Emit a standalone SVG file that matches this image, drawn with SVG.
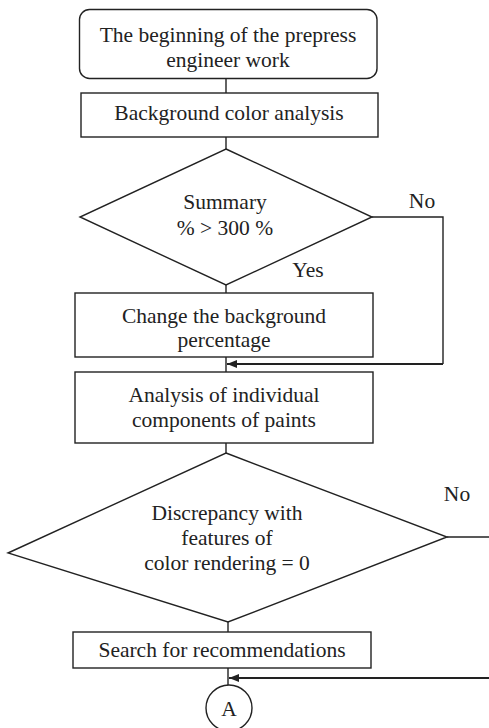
<svg xmlns="http://www.w3.org/2000/svg" width="489" height="728" viewBox="0 0 489 728">
<style>
.s{fill:#fff;stroke:#222;stroke-width:1.4}
.t{font-family:"Liberation Serif","Times New Roman",serif;font-size:21.5px;fill:#222;text-anchor:middle}
.c{fill:none;stroke:#222;stroke-width:1.4}
.a{fill:none;stroke:#222;stroke-width:2}
</style>
<defs>
<marker id="ah" markerWidth="10" markerHeight="8" refX="10" refY="4" orient="auto" markerUnits="userSpaceOnUse">
<path d="M0,0 L10,4 L0,8 Z" fill="#222"/>
</marker>
</defs>
<rect width="489" height="728" fill="#fff"/>
<g id="connectors">
<path class="c" d="M226,78.5 V93"/>
<path class="c" d="M226,137 V149"/>
<path class="c" d="M226,285 V293"/>
<path class="c" d="M372,217 H443 V364"/>
<path class="a" d="M443,364 H227" marker-end="url(#ah)"/>
<path class="c" d="M226,357 V372"/>
<path class="c" d="M226,443 V453"/>
<path class="c" d="M228,622 V632"/>
<path class="c" d="M447,537 H489"/>
<path class="c" d="M228,668 V685"/>
<path class="a" d="M489,678 H229" marker-end="url(#ah)"/>
</g>
<g id="start">
<rect class="s" x="79.5" y="9.5" width="297.5" height="69" rx="10"/>
<text class="t" x="228" y="42">The beginning of the prepress</text>
<text class="t" x="228" y="67">engineer work</text>
</g>
<g id="bg">
<rect class="s" x="81" y="93" width="297" height="44"/>
<text class="t" x="229" y="120">Background color analysis</text>
</g>
<g id="dec1">
<polygon class="s" points="226,149 372,217 226,285 80,217"/>
<text class="t" x="225" y="209">Summary</text>
<text class="t" x="225" y="235">% &gt; 300 %</text>
<text class="t" x="308" y="277">Yes</text>
<text class="t" x="422" y="208">No</text>
</g>
<g id="change">
<rect class="s" x="75" y="293" width="298" height="64"/>
<text class="t" x="224" y="323">Change the background</text>
<text class="t" x="224" y="347">percentage</text>
</g>
<g id="analysis">
<rect class="s" x="75" y="372" width="298" height="71"/>
<text class="t" x="224" y="402">Analysis of individual</text>
<text class="t" x="224" y="427">components of paints</text>
</g>
<g id="dec2">
<polygon class="s" points="226,453 447,537 228,622 8,553"/>
<text class="t" x="227" y="520">Discrepancy with</text>
<text class="t" x="227" y="545">features of</text>
<text class="t" x="227" y="570">color rendering = 0</text>
<text class="t" x="457" y="501">No</text>
</g>
<g id="search">
<rect class="s" x="73" y="632" width="298" height="36"/>
<text class="t" x="222" y="657">Search for recommendations</text>
</g>
<g id="connA">
<circle class="s" cx="229" cy="708" r="23"/>
<text class="t" x="229" y="716">A</text>
</g>
</svg>
